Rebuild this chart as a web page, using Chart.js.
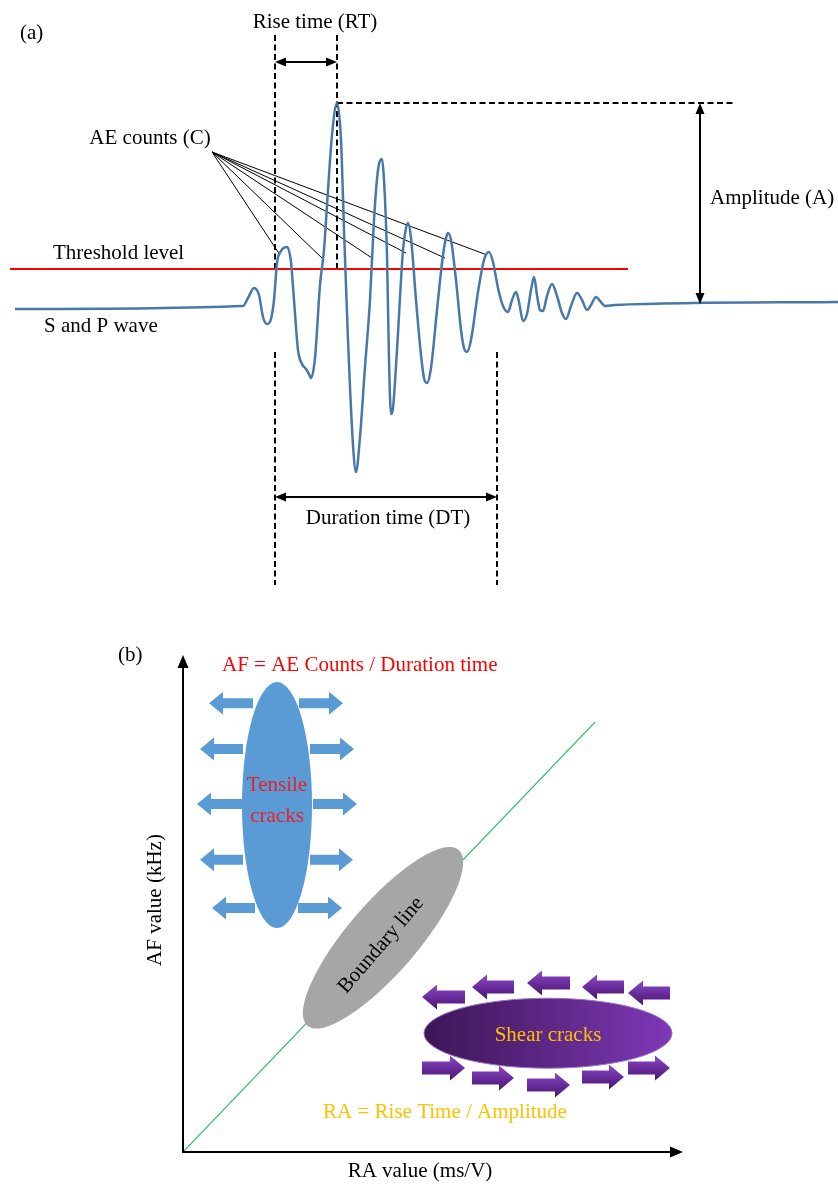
<!DOCTYPE html>
<html>
<head>
<meta charset="utf-8">
<script src="https://cdn.jsdelivr.net/npm/chart.js@4.4.0/dist/chart.umd.min.js"></script>
<style>
  body { margin: 0; background: #fff; }
  canvas { display: block; }
</style>
</head>
<body>
<canvas id="wave-chart" width="838" height="600"></canvas>
<canvas id="af-ra-chart" width="838" height="587"></canvas>
<script>
// ---- (a) AE waveform: sample index vs amplitude (baseline = 0) ----
const wavePoints = [
  [15,-4],[243,-1],[248,7],[254,17],[259,10],[263,-12],[267,-19],[271,-14],[274,5],
  [277,42],[281,54],[287,58],[291,43],[294,5],[298,-45],[302,-59],[306,-64],[309,-69],
  [311,-73],[315,-53],[320,20],[324,55],[328,115],[332,170],[337,202],[341,165],[344,75],
  [348,-35],[353,-140],[356,-167],[360,-132],[365,-62],[370,5],[374,85],[378,135],[382,146],
  [384,125],[387,50],[389,-55],[391,-109],[393,-103],[397,-45],[403,55],[406,77],[408,82],
  [411,67],[416,5],[421,-50],[424,-73],[427,-78],[431,-63],[437,-5],[443,50],[446,67],
  [448,72],[451,65],[456,25],[461,-25],[464,-43],[467,-47],[471,-35],[478,13],[484,45],
  [489,53],[493,43],[498,17],[503,-1],[508,-7],[512,5],[516,13],[519,3],[523,-16],
  [527,-9],[531,15],[534,28],[537,10],[540,-5],[543,-6],[547,9],[552,21],[557,9],
  [562,-8],[566,-14],[571,-1],[577,12],[582,5],[587,-5],[591,0],[596,8],[600,4],
  [605,-1],[615,0],[838,3]
];
const thresholdLevel = 36;
const thresholdSpan = [10, 628];
const riseStart = 275;      // first threshold crossing
const peakTime = 337;
const peakAmp = 202;
const durationEnd = 497;    // last threshold crossing
const countHits = [[280,50],[324,45],[372,47],[406,52],[445,47],[487,50]];
const countAnchor = [212,153];

// ---- (b) RA-AF classification (arbitrary 0-100 units) ----
const boundaryLine = [[0,0],[82.4,86.5]];
const regionRA = [18.8, 40.0, 73.0];
const regionAF = [69.8, 43.1, 23.9];
// [from RA, to RA, AF]
const tensileArrows = [
  [14,5.2,90.3],[23.2,32,90.3],
  [12,3.4,81.1],[25.4,34.2,81.1],
  [11.8,2.8,70],[26,34.8,70],
  [12,3.4,58.8],[25.4,34,58.8],
  [14.4,5.8,49.1],[23,31.8,49.1]
];
const shearArrows = [
  [56.4,47.8,31.2],[66.2,57.8,33.2],[77.4,68.8,34],[88.2,79.8,33.2],[97.4,89,32],
  [47.8,56.4,16.9],[57.8,66.2,14.9],[68.8,77.4,13.5],[79.8,88.2,15.1],[89,97.4,16.9]
];

const FONT = '21px "Liberation Serif", "Times New Roman", serif';

function segs(list) {
  // join 2-point segments with null gaps
  const out = [];
  list.forEach((s, i) => {
    if (i) out.push({ x: s[0][0], y: null });
    out.push({ x: s[0][0], y: s[0][1] }, { x: s[1][0], y: s[1][1] });
  });
  return out;
}

function arrowHead(ctx, x, y, ang, len, half) {
  ctx.save();
  ctx.translate(x, y);
  ctx.rotate(ang);
  ctx.beginPath();
  ctx.moveTo(0, 0);
  ctx.lineTo(-len, -half);
  ctx.lineTo(-len, half);
  ctx.closePath();
  ctx.fill();
  ctx.restore();
}

function doubleArrow(ctx, x0, y0, x1, y1) {
  const ang = Math.atan2(y1 - y0, x1 - x0);
  const len = 10;
  ctx.save();
  ctx.strokeStyle = '#000';
  ctx.fillStyle = '#000';
  ctx.lineWidth = 2;
  ctx.beginPath();
  ctx.moveTo(x0 + Math.cos(ang) * len, y0 + Math.sin(ang) * len);
  ctx.lineTo(x1 - Math.cos(ang) * len, y1 - Math.sin(ang) * len);
  ctx.stroke();
  arrowHead(ctx, x1, y1, ang, len + 1, 4.5);
  arrowHead(ctx, x0, y0, ang + Math.PI, len + 1, 4.5);
  ctx.restore();
}

function blockArrow(ctx, xFrom, xTo, y, shaft, head, headLen, fill) {
  const dir = Math.sign(xTo - xFrom);
  const neck = xTo - dir * headLen;
  ctx.beginPath();
  ctx.moveTo(xFrom, y - shaft / 2);
  ctx.lineTo(neck, y - shaft / 2);
  ctx.lineTo(neck, y - head / 2);
  ctx.lineTo(xTo, y);
  ctx.lineTo(neck, y + head / 2);
  ctx.lineTo(neck, y + shaft / 2);
  ctx.lineTo(xFrom, y + shaft / 2);
  ctx.closePath();
  ctx.fillStyle = fill;
  ctx.fill();
}

function text(ctx, str, x, y, align, color, rot) {
  ctx.save();
  ctx.font = FONT;
  ctx.fillStyle = color || '#000';
  ctx.textAlign = align || 'center';
  ctx.textBaseline = 'middle';
  ctx.translate(x, y);
  if (rot) ctx.rotate(rot);
  ctx.fillText(str, 0, 0);
  ctx.restore();
}

const waveLabels = [
  ['(a)', 20, 272, 'left'],
  ['Rise time (RT)', 315, 283, 'center'],
  ['AE counts (C)', 150, 167, 'center'],
  ['Threshold level', 53, 52, 'left'],
  ['S and P wave', 44, -21, 'left'],
  ['Amplitude (A)', 710, 107, 'left'],
  ['Duration time (DT)', 388, -213, 'center']
];

const waveAnnotations = {
  id: 'waveAnnotations',
  afterDatasetsDraw(chart) {
    const ctx = chart.ctx;
    const xs = chart.scales.x, ys = chart.scales.y;
    const px = v => xs.getPixelForValue(v), py = v => ys.getPixelForValue(v);
    doubleArrow(ctx, px(riseStart), py(243), px(peakTime), py(243));
    doubleArrow(ctx, px(700), py(peakAmp), px(700), py(1));
    doubleArrow(ctx, px(riseStart), py(-192), px(durationEnd), py(-192));
    waveLabels.forEach(l => text(ctx, l[0], px(l[1]), py(l[2]), l[3]));
  }
};

new Chart(document.getElementById('wave-chart'), {
  type: 'line',
  data: {
    datasets: [
      {
        label: 'S and P wave',
        data: wavePoints.map(p => ({ x: p[0], y: p[1] })),
        borderColor: '#4878a8',
        borderWidth: 2.5,
        pointRadius: 0,
        cubicInterpolationMode: 'monotone'
      },
      {
        label: 'Threshold level',
        data: [{ x: thresholdSpan[0], y: thresholdLevel }, { x: thresholdSpan[1], y: thresholdLevel }],
        borderColor: '#ff0000',
        borderWidth: 2,
        pointRadius: 0
      },
      {
        label: 'guides',
        data: segs([
          [[riseStart, 270], [riseStart, thresholdLevel]],
          [[peakTime, 270], [peakTime, thresholdLevel]],
          [[peakTime, peakAmp], [735, peakAmp]],
          [[riseStart, -47], [riseStart, -280]],
          [[durationEnd, -47], [durationEnd, -280]]
        ]),
        borderColor: '#000',
        borderWidth: 2,
        borderDash: [6, 3.5],
        pointRadius: 0
      },
      {
        label: 'counts',
        data: segs(countHits.map(h => [countAnchor, h])),
        borderColor: '#000',
        borderWidth: 1,
        pointRadius: 0
      }
    ]
  },
  options: {
    responsive: false,
    animation: false,
    events: [],
    layout: { padding: 0 },
    scales: {
      x: { type: 'linear', min: 0, max: 838, display: false },
      y: { type: 'linear', min: -295, max: 305, display: false }
    },
    plugins: { legend: { display: false }, tooltip: { enabled: false } }
  },
  plugins: [waveAnnotations]
});

// ---- (b) ----
const afLabels = [
  ['(b)', -13, 100, 'left', '#000', 0],
  ['AF = AE Counts / Duration time', 7.8, 97.8, 'left', '#ff0000', 0],
  ['Tensile', 18.8, 73.8, 'center', '#e8202a', 0],
  ['cracks', 18.8, 67.6, 'center', '#e8202a', 0],
  ['Boundary line', 39.6, 41.6, 'center', '#000', -0.86],
  ['Shear cracks', 73, 23.5, 'center', '#ffc000', 0],
  ['RA = Rise Time / Amplitude', 52.4, 8, 'center', '#ffc000', 0],
  ['RA value (ms/V)', 47.4, -4, 'center', '#000', 0],
  ['AF value (kHz)', -5.6, 50.7, 'center', '#000', -Math.PI / 2]
];

const crackRegions = {
  id: 'crackRegions',
  afterDatasetsDraw(chart) {
    const ctx = chart.ctx;
    const xs = chart.scales.x, ys = chart.scales.y;
    const px = v => xs.getPixelForValue(v), py = v => ys.getPixelForValue(v);

    // axes with arrow heads
    ctx.save();
    ctx.strokeStyle = '#000';
    ctx.fillStyle = '#000';
    ctx.lineWidth = 2;
    ctx.beginPath();
    ctx.moveTo(px(0), py(100) + 10);
    ctx.lineTo(px(0), py(0));
    ctx.lineTo(px(100) - 10, py(0));
    ctx.stroke();
    arrowHead(ctx, px(0), py(100), -Math.PI / 2, 13, 5.5);
    arrowHead(ctx, px(100), py(0), 0, 13, 5.5);
    ctx.restore();

    // tensile
    ctx.save();
    ctx.fillStyle = '#5b9bd5';
    ctx.beginPath();
    ctx.ellipse(px(regionRA[0]), py(regionAF[0]), 35, 123, 0, 0, Math.PI * 2);
    ctx.fill();
    tensileArrows.forEach(a => blockArrow(ctx, px(a[0]), px(a[1]), py(a[2]), 10, 23, 14, '#5b9bd5'));
    ctx.restore();

    // boundary
    ctx.save();
    ctx.fillStyle = '#a6a6a6';
    ctx.beginPath();
    ctx.ellipse(px(regionRA[1]), py(regionAF[1]), 116, 35, -0.86, 0, Math.PI * 2);
    ctx.fill();
    ctx.restore();

    // shear
    ctx.save();
    const cx = px(regionRA[2]), cy = py(regionAF[2]);
    const g = ctx.createLinearGradient(cx - 124, 0, cx + 124, 0);
    g.addColorStop(0, '#3c1656');
    g.addColorStop(1, '#7e38b6');
    ctx.fillStyle = g;
    ctx.strokeStyle = '#9b6fc9';
    ctx.lineWidth = 1;
    ctx.beginPath();
    ctx.ellipse(cx, cy, 124, 35, 0, 0, Math.PI * 2);
    ctx.fill();
    ctx.stroke();
    shearArrows.forEach(a => {
      const y = py(a[2]);
      const ag = ctx.createLinearGradient(0, y - 12, 0, y + 12);
      ag.addColorStop(0, '#8a4cc2');
      ag.addColorStop(0.5, '#6a2c9e');
      ag.addColorStop(1, '#4a1a72');
      blockArrow(ctx, px(a[0]), px(a[1]), y, 13, 25, 15, ag);
    });
    ctx.restore();

    afLabels.forEach(l => text(ctx, l[0], px(l[1]), py(l[2]), l[3], l[4], l[5]));
  }
};

new Chart(document.getElementById('af-ra-chart'), {
  type: 'line',
  data: {
    datasets: [{
      label: 'Boundary line',
      data: boundaryLine.map(p => ({ x: p[0], y: p[1] })),
      borderColor: '#22bb55',
      borderWidth: 1.2,
      pointRadius: 0
    }]
  },
  options: {
    responsive: false,
    animation: false,
    events: [],
    layout: { padding: { left: 183, right: 155, top: 55, bottom: 35 } },
    scales: {
      x: { type: 'linear', min: 0, max: 100, display: false },
      y: { type: 'linear', min: 0, max: 100, display: false }
    },
    plugins: { legend: { display: false }, tooltip: { enabled: false } }
  },
  plugins: [crackRegions]
});
</script>
</body>
</html>
